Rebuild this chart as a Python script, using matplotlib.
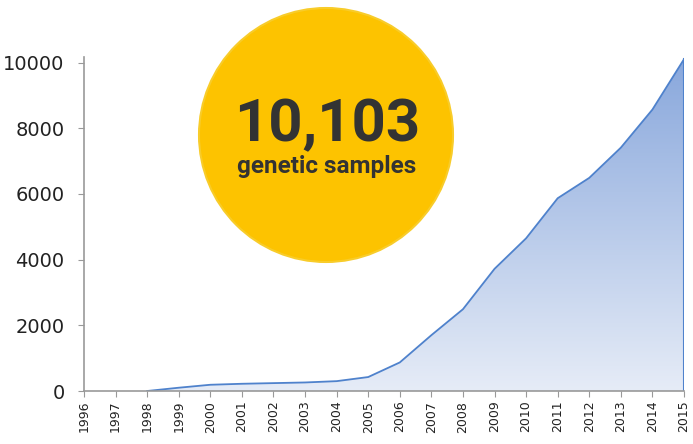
import numpy as np
import matplotlib.pyplot as plt
from matplotlib.patches import Ellipse
from matplotlib.colors import LinearSegmentedColormap

# datos: muestras geneticas acumuladas por año
years = list(range(1996, 2016))
samples = [None, None, 0, 100, 190, 220, 240, 260, 300, 425, 870,
           1700, 2490, 3720, 4650, 5870, 6490, 7410, 8570, 10103]
year_labels = [str(y) for y in years]
y_ticks = [0, 2000, 4000, 6000, 8000, 10000]
big_number = "10,103"
big_caption = "genetic samples"

fig = plt.figure(figsize=(6.93, 4.44), dpi=100)
ax = fig.add_axes([84/693, 1-391/444, 600/693, 334/444])

xs = np.array([y for y, v in zip(years, samples) if v is not None])
vs = np.array([v for v in samples if v is not None], dtype=float)

line_col = "#4f82cc"
# relleno con degradado
poly = ax.fill_between(xs, 0, vs, color="none", lw=0)
cmap = LinearSegmentedColormap.from_list("g", ["#e6ecf7", "#88a7dc"])
grad = np.linspace(0, 1, 256).reshape(-1, 1)
img = ax.imshow(grad, cmap=cmap, aspect="auto", origin="lower",
                extent=[1996, 2015, 0, 10170], zorder=1)
img.set_clip_path(poly.get_paths()[0], transform=ax.transData)
ax.plot(xs, vs, color=line_col, lw=1.3, zorder=2)
ax.plot([2015, 2015], [0, vs[-1]], color=line_col, lw=1.5, zorder=2)

ax.set_xlim(1996, 2015)
ax.set_ylim(0, 10170)
ax.set_xticks(years)
ax.set_xticklabels(year_labels, rotation=90, fontsize=9)
ax.set_yticks(y_ticks)
ax.set_yticklabels([str(t) for t in y_ticks], fontsize=14)
for s in ["top", "right"]:
    ax.spines[s].set_visible(False)
for s in ["left", "bottom"]:
    ax.spines[s].set_color("#999999")
    ax.spines[s].set_linewidth(1.2)
ax.tick_params(axis="y", length=4, color="#999999", pad=10, labelcolor="#222222")
ax.tick_params(axis="x", length=4, color="#999999", pad=3, labelcolor="#222222")

# circulo amarillo con el total
circ = Ellipse((326/693, 1-135/444), 254/693, 254/444, transform=fig.transFigure,
               facecolor="#fdc300", edgecolor="#f8cc2a", lw=1.5, zorder=5)
fig.patches.append(circ)
fam = ["Roboto", "DejaVu Sans"]
fig.text(327/693, 1-141.7/444, big_number, family=fam, weight="bold", fontsize=43,
         color="#333333", ha="center", va="baseline", zorder=6)
fig.text(327/693, 1-173.3/444, big_caption, family=fam, weight="bold", fontsize=17.5,
         color="#333333", ha="center", va="baseline", zorder=6)

fig.savefig("out.png", dpi=100)
